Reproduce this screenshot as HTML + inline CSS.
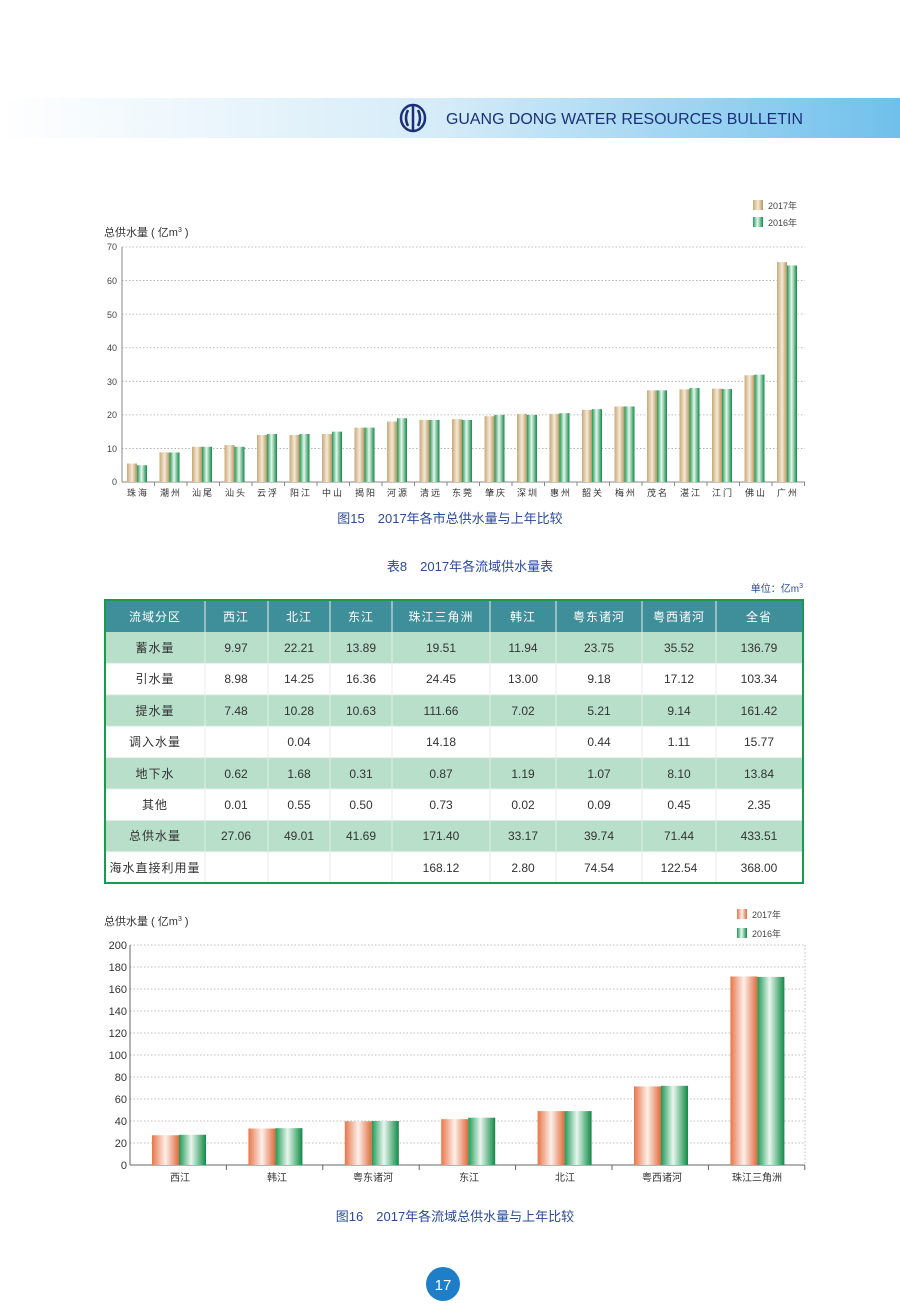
<!DOCTYPE html>
<html><head><meta charset="utf-8"><style>
body{margin:0;width:900px;height:1311px;background:#fff;font-family:"Liberation Sans","Noto Sans CJK SC",sans-serif;overflow:hidden}
svg text{font-family:"Liberation Sans","Noto Sans CJK SC",sans-serif}
</style></head><body>
<svg id="s" width="900" height="1311" viewBox="0 0 900 1311" xmlns="http://www.w3.org/2000/svg">
<defs>
<linearGradient id="hb" x1="0" x2="1"><stop offset="0" stop-color="#fff"/><stop offset="0.5" stop-color="#d4ebf8"/><stop offset="1" stop-color="#6fc0ec"/></linearGradient>
<linearGradient id="tan" x1="0" x2="1"><stop offset="0" stop-color="#c9a878"/><stop offset="0.5" stop-color="#f4ead8"/><stop offset="1" stop-color="#b89660"/></linearGradient>
<linearGradient id="grn" x1="0" x2="1"><stop offset="0" stop-color="#1f9a55"/><stop offset="0.45" stop-color="#e8f6ee"/><stop offset="1" stop-color="#108a45"/></linearGradient>
<linearGradient id="org" x1="0" x2="1"><stop offset="0" stop-color="#e8764a"/><stop offset="0.5" stop-color="#fdf0ea"/><stop offset="1" stop-color="#e06a3c"/></linearGradient>
</defs>
<rect x="0" y="98" width="900" height="40" fill="url(#hb)"/>
<g fill="none" stroke="#1b2f7a" stroke-width="2.5"><ellipse cx="413" cy="118" rx="12" ry="13"/><path d="M413 104v28M408 110q-4 8 0 16M418 110q4 8 0 16"/></g>
<text x="446" y="124" font-size="16" fill="#1b2f7a" textLength="357" lengthAdjust="spacingAndGlyphs">GUANG DONG WATER RESOURCES BULLETIN</text>

<g id="c1"></g>
<rect x="753" y="200" width="10" height="10" fill="url(#tan)"/><text x="768" y="209" font-size="9" fill="#444">2017年</text>
<rect x="753" y="217" width="10" height="10" fill="url(#grn)"/><text x="768" y="226" font-size="9" fill="#444">2016年</text>
<text x="104" y="236" font-size="11" fill="#333">总供水量 ( 亿m<tspan font-size="7" dy="-4">3</tspan><tspan dy="4"> )</tspan></text>
<g font-size="9" fill="#444" text-anchor="end">
<text x="117" y="485">0</text><text x="117" y="452">10</text><text x="117" y="418">20</text><text x="117" y="385">30</text><text x="117" y="351">40</text><text x="117" y="318">50</text><text x="117" y="284">60</text><text x="117" y="250">70</text></g>
<g font-size="9" fill="#333" text-anchor="middle" letter-spacing="2">
<text x="138" y="496">珠海</text><text x="171" y="496">潮州</text><text x="203" y="496">汕尾</text><text x="236" y="496">汕头</text><text x="268" y="496">云浮</text><text x="301" y="496">阳江</text><text x="333" y="496">中山</text><text x="366" y="496">揭阳</text><text x="398" y="496">河源</text><text x="431" y="496">清远</text><text x="463" y="496">东莞</text><text x="496" y="496">肇庆</text><text x="528" y="496">深圳</text><text x="561" y="496">惠州</text><text x="593" y="496">韶关</text><text x="626" y="496">梅州</text><text x="658" y="496">茂名</text><text x="691" y="496">湛江</text><text x="723" y="496">江门</text><text x="756" y="496">佛山</text><text x="788" y="496">广州</text></g>
<text x="450" y="523" font-size="13" fill="#2a4a9a" text-anchor="middle">图15　2017年各市总供水量与上年比较</text>

<text x="470" y="571" font-size="13" fill="#2a4a9a" text-anchor="middle">表8　2017年各流域供水量表</text>
<text x="803" y="592" font-size="10" fill="#2a4a9a" text-anchor="end">单位：亿m<tspan font-size="7" dy="-4">3</tspan></text>
<g id="tb"></g>

<g id="c2"></g>
<text x="104" y="925" font-size="11" fill="#333">总供水量 ( 亿m<tspan font-size="7" dy="-4">3</tspan><tspan dy="4"> )</tspan></text>
<rect x="737" y="909" width="10" height="10" fill="url(#org)"/><text x="752" y="918" font-size="9" fill="#444">2017年</text>
<rect x="737" y="928" width="10" height="10" fill="url(#grn)"/><text x="752" y="937" font-size="9" fill="#444">2016年</text>
<g font-size="11" fill="#333" text-anchor="end">
<text x="127" y="1169">0</text><text x="127" y="1147">20</text><text x="127" y="1125">40</text><text x="127" y="1103">60</text><text x="127" y="1081">80</text><text x="127" y="1059">100</text><text x="127" y="1037">120</text><text x="127" y="1015">140</text><text x="127" y="993">160</text><text x="127" y="971">180</text><text x="127" y="949">200</text></g>
<g font-size="10" fill="#333" text-anchor="middle">
<text x="180" y="1181">西江</text><text x="277" y="1181">韩江</text><text x="373" y="1181">粤东诸河</text><text x="469" y="1181">东江</text><text x="565" y="1181">北江</text><text x="662" y="1181">粤西诸河</text><text x="757" y="1181">珠江三角洲</text></g>
<text x="455" y="1221" font-size="13" fill="#2a4a9a" text-anchor="middle">图16　2017年各流域总供水量与上年比较</text>
<circle cx="443" cy="1284" r="17" fill="#1e7fc8"/>
<text x="443" y="1290" font-size="15" fill="#fff" text-anchor="middle">17</text>
</svg>
<script>
var NS="http://www.w3.org/2000/svg";
function el(p,t,a){var e=document.createElementNS(NS,t);for(var k in a)e.setAttribute(k,a[k]);p.appendChild(e);return e;}
var c1=document.getElementById("c1");
for(var v=10;v<=70;v+=10){var y=482-v*3.357;el(c1,"line",{x1:122,x2:805,y1:y,y2:y,stroke:"#aaa","stroke-dasharray":"1.5 2","stroke-width":0.8});}
el(c1,"line",{x1:122,x2:122,y1:247,y2:482,stroke:"#888"});
el(c1,"line",{x1:122,x2:805,y1:482,y2:482,stroke:"#888"});
var d1=[[5.5,5],[8.8,8.8],[10.5,10.5],[11,10.5],[14,14.3],[14,14.3],[14.3,15],[16.2,16.2],[18,19],[18.5,18.5],[18.7,18.5],[19.6,20],[20.3,20],[20.3,20.5],[21.5,21.7],[22.5,22.5],[27.3,27.3],[27.6,28],[27.8,27.7],[31.8,32],[65.5,64.5]];
var w=32.5;
d1.forEach(function(d,i){var x=122+i*w;
el(c1,"line",{x1:x+w,x2:x+w,y1:482,y2:486,stroke:"#888"});
el(c1,"rect",{x:x+5,y:482-d[0]*3.357,width:10,height:d[0]*3.357,fill:"url(#tan)"});
el(c1,"rect",{x:x+15,y:482-d[1]*3.357,width:10,height:d[1]*3.357,fill:"url(#grn)"});});
var c2=document.getElementById("c2");
for(var v=20;v<=200;v+=20){var y=1165-v*1.1;el(c2,"line",{x1:130,x2:805,y1:y,y2:y,stroke:"#aaa","stroke-dasharray":"1.5 2","stroke-width":0.8});}
el(c2,"line",{x1:805,x2:805,y1:945,y2:1165,stroke:"#bbb","stroke-dasharray":"1.5 2"});
el(c2,"line",{x1:130,x2:130,y1:945,y2:1165,stroke:"#666"});
el(c2,"line",{x1:130,x2:805,y1:1165,y2:1165,stroke:"#666"});
var d2=[[27.06,27.5],[33.17,33.5],[39.74,40],[41.69,43],[49.01,49],[71.44,72],[171.4,171]];
var w2=96.4;
d2.forEach(function(d,i){var x=130+i*w2;
el(c2,"line",{x1:x+w2,x2:x+w2,y1:1165,y2:1170,stroke:"#666"});
el(c2,"rect",{x:x+22,y:1165-d[0]*1.1,width:27,height:d[0]*1.1,fill:"url(#org)"});
el(c2,"rect",{x:x+49,y:1165-d[1]*1.1,width:27,height:d[1]*1.1,fill:"url(#grn)"});});
var tb=document.getElementById("tb");
var cx=[105,205,268,330,392,490,556,642,716,803];
el(tb,"rect",{x:105,y:600,width:698,height:32,fill:"#3f8f9a"});
for(var r=0;r<8;r++){var y=632+r*31.4;el(tb,"rect",{x:105,y:y,width:698,height:31.4,fill:r%2==0?"#b8dfca":"#fff"});}
for(var i=1;i<9;i++)el(tb,"line",{x1:cx[i],x2:cx[i],y1:600,y2:883,stroke:"#e6efe9","stroke-width":1});
for(var r=1;r<8;r++){var y=632+r*31.4;el(tb,"line",{x1:105,x2:803,y1:y,y2:y,stroke:"#e6efe9"});}
el(tb,"rect",{x:105,y:600,width:698,height:283,fill:"none",stroke:"#1a9a50","stroke-width":2});
</script>
<svg width="900" height="1311" style="position:absolute;left:0;top:0" xmlns="http://www.w3.org/2000/svg">
<g font-size="12" fill="#fff" text-anchor="middle" letter-spacing="1">
<text x="155" y="621">流域分区</text><text x="236" y="621">西江</text><text x="299" y="621">北江</text><text x="361" y="621">东江</text><text x="441" y="621">珠江三角洲</text><text x="523" y="621">韩江</text><text x="599" y="621">粤东诸河</text><text x="679" y="621">粤西诸河</text><text x="759" y="621">全省</text></g>
<g font-size="12" fill="#333" text-anchor="middle">
<text x="155" y="652" letter-spacing="1">蓄水量</text><text x="236" y="652">9.97</text><text x="299" y="652">22.21</text><text x="361" y="652">13.89</text><text x="441" y="652">19.51</text><text x="523" y="652">11.94</text><text x="599" y="652">23.75</text><text x="679" y="652">35.52</text><text x="759" y="652">136.79</text>
<text x="155" y="683" letter-spacing="1">引水量</text><text x="236" y="683">8.98</text><text x="299" y="683">14.25</text><text x="361" y="683">16.36</text><text x="441" y="683">24.45</text><text x="523" y="683">13.00</text><text x="599" y="683">9.18</text><text x="679" y="683">17.12</text><text x="759" y="683">103.34</text>
<text x="155" y="715" letter-spacing="1">提水量</text><text x="236" y="715">7.48</text><text x="299" y="715">10.28</text><text x="361" y="715">10.63</text><text x="441" y="715">111.66</text><text x="523" y="715">7.02</text><text x="599" y="715">5.21</text><text x="679" y="715">9.14</text><text x="759" y="715">161.42</text>
<text x="155" y="746" letter-spacing="1">调入水量</text><text x="299" y="746">0.04</text><text x="441" y="746">14.18</text><text x="599" y="746">0.44</text><text x="679" y="746">1.11</text><text x="759" y="746">15.77</text>
<text x="155" y="778" letter-spacing="1">地下水</text><text x="236" y="778">0.62</text><text x="299" y="778">1.68</text><text x="361" y="778">0.31</text><text x="441" y="778">0.87</text><text x="523" y="778">1.19</text><text x="599" y="778">1.07</text><text x="679" y="778">8.10</text><text x="759" y="778">13.84</text>
<text x="155" y="809" letter-spacing="1">其他</text><text x="236" y="809">0.01</text><text x="299" y="809">0.55</text><text x="361" y="809">0.50</text><text x="441" y="809">0.73</text><text x="523" y="809">0.02</text><text x="599" y="809">0.09</text><text x="679" y="809">0.45</text><text x="759" y="809">2.35</text>
<text x="155" y="840" letter-spacing="1">总供水量</text><text x="236" y="840">27.06</text><text x="299" y="840">49.01</text><text x="361" y="840">41.69</text><text x="441" y="840">171.40</text><text x="523" y="840">33.17</text><text x="599" y="840">39.74</text><text x="679" y="840">71.44</text><text x="759" y="840">433.51</text>
<text x="155" y="872" letter-spacing="1">海水直接利用量</text><text x="441" y="872">168.12</text><text x="523" y="872">2.80</text><text x="599" y="872">74.54</text><text x="679" y="872">122.54</text><text x="759" y="872">368.00</text>
</g></svg>
</body></html>
